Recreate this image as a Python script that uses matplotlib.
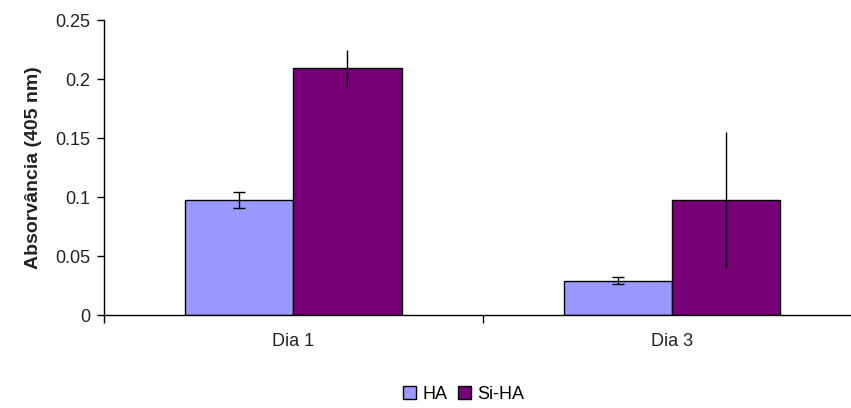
import matplotlib
matplotlib.use("Agg")
import matplotlib.pyplot as plt
import numpy as np

plt.rcParams["font.family"] = ["Liberation Sans", "DejaVu Sans"]

days = ["Dia 1", "Dia 3"]
ha_values = [0.0975, 0.029]
ha_errors = [0.007, 0.003]
siha_values = [0.209, 0.0975]
siha_errors = [0.016, 0.058]

fig = plt.figure(figsize=(8.51, 4.08), dpi=100)
# axis runs off the right edge, like the cropped original
ax = fig.add_axes([0.1222, 0.2279, 0.8907, 0.7230])

x = np.arange(len(days))
w = 0.285
ax.bar(x - w / 2, ha_values, w, color="#9999ff", edgecolor="black",
       linewidth=1.0, label="HA", zorder=2)
ax.bar(x + w / 2, siha_values, w, color="#780078", edgecolor="black",
       linewidth=1.0, label="Si-HA", zorder=2)
ax.errorbar(x - w / 2, ha_values, yerr=ha_errors, fmt="none", ecolor="black",
            elinewidth=1.0, capsize=4, capthick=1.0, zorder=3)
ax.errorbar(x + w / 2, siha_values, yerr=siha_errors, fmt="none",
            ecolor="black", elinewidth=1.0, capsize=0, zorder=3)

ax.set_xlim(-0.5, len(days) - 0.5)
ax.set_ylim(0, 0.25)
ax.set_yticks([0, 0.05, 0.1, 0.15, 0.2, 0.25])
ax.set_yticklabels(["0", "0.05", "0.1", "0.15", "0.2", "0.25"])
ax.set_xticks(x)
ax.set_xticklabels(days)
ax.set_xticks(np.arange(-0.5, len(days)), minor=True)
ax.tick_params(axis="x", which="major", length=0, pad=13, labelsize=13,
               labelcolor="#222222")
ax.tick_params(axis="x", which="minor", length=6, width=1.0)
ax.tick_params(axis="y", length=5, width=1.0, labelsize=13, pad=5,
               labelcolor="#222222")

for s in ["top", "right"]:
    ax.spines[s].set_visible(False)
for s in ["left", "bottom"]:
    ax.spines[s].set_linewidth(1.0)

ax.set_ylabel("Absorvância (405 nm)", fontsize=14, fontweight="bold",
              color="#222222", labelpad=9)

fig.legend(loc="center", bbox_to_anchor=(0.545, 0.034), ncol=2,
           frameon=False, fontsize=13, handlelength=0.7, handleheight=0.7,
           handletextpad=0.35, columnspacing=0.6)

fig.savefig("out.png", dpi=100)
